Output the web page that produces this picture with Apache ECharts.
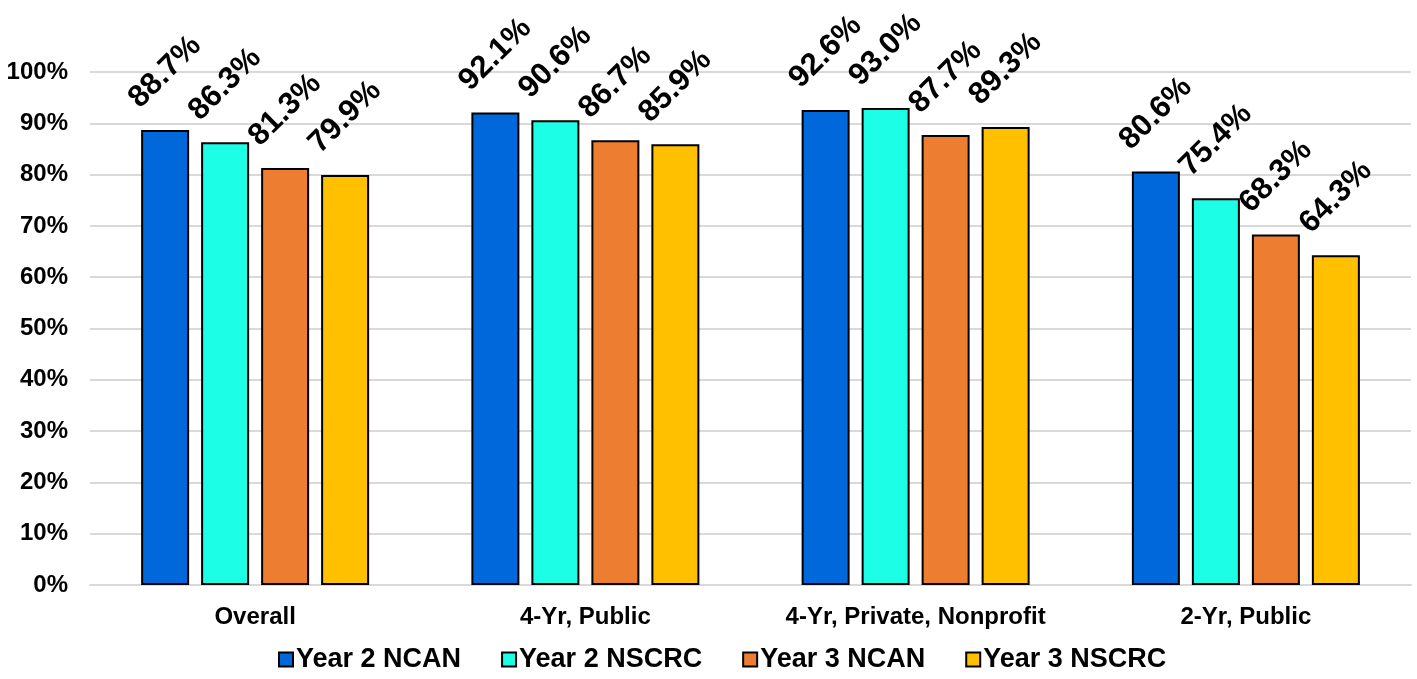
<!DOCTYPE html>
<html>
<head>
<meta charset="utf-8">
<script src="https://cdn.jsdelivr.net/npm/echarts@6/dist/echarts.min.js"></script>
<style>
  html, body { margin: 0; padding: 0; background: #ffffff; }
  #chart { width: 1417px; height: 679px; }
</style>
</head>
<body>
<div id="chart"></div>
<script>
// Institution types along the x axis
const categories = ['Overall', '4-Yr, Public', '4-Yr, Private, Nonprofit', '2-Yr, Public'];

// Persistence rates (%) per cohort and data source
const year2Ncan  = [88.7, 92.1, 92.6, 80.6];
const year2Nscrc = [86.3, 90.6, 93.0, 75.4];
const year3Ncan  = [81.3, 86.7, 87.7, 68.3];
const year3Nscrc = [79.9, 85.9, 89.3, 64.3];

const seriesNames = ['Year 2 NCAN', 'Year 2 NSCRC', 'Year 3 NCAN', 'Year 3 NSCRC'];
const seriesColors = ['#0068DA', '#1CFFE6', '#ED7D31', '#FFC000'];
const seriesData = [year2Ncan, year2Nscrc, year3Ncan, year3Nscrc];

const FONT = '"Liberation Sans", Arial, sans-serif';

const chart = echarts.init(document.getElementById('chart'), null, { renderer: 'canvas' });

chart.setOption({
  animation: false,
  backgroundColor: '#ffffff',
  grid: { left: 90, right: 6, top: 72, bottom: 94, containLabel: false },
  legend: {
    bottom: 1,
    left: 278,
    padding: [5, 0, 5, 0],
    icon: 'rect',
    itemWidth: 14,
    itemHeight: 14,
    itemGap: 40,
    textStyle: { fontFamily: FONT, fontWeight: 'bold', fontSize: 27, color: '#000000', padding: [0, 0, 0, -2] },
    data: seriesNames
  },
  xAxis: {
    type: 'category',
    data: categories,
    axisTick: { show: false },
    axisLine: { show: true, lineStyle: { color: '#d9d9d9', width: 2 } },
    axisLabel: { interval: 0, fontFamily: FONT, fontWeight: 'bold', fontSize: 24, color: '#000000', margin: 20 }
  },
  yAxis: {
    type: 'value',
    min: 0,
    max: 100,
    interval: 10,
    axisLine: { show: false },
    axisTick: { show: false },
    splitLine: { lineStyle: { color: '#d9d9d9', width: 2 } },
    axisLabel: {
      fontFamily: FONT, fontWeight: 'bold', fontSize: 24, color: '#000000', margin: 22,
      formatter: v => v + '%'
    }
  },
  series: seriesNames.map((name, i) => ({
    name: name,
    type: 'bar',
    data: seriesData[i],
    barWidth: 48,
    barGap: '25%',
    itemStyle: { color: seriesColors[i], borderColor: '#000000', borderWidth: 2 },
    label: {
      show: true,
      position: 'top',
      distance: 58,
      rotate: 45,
      align: 'center',
      verticalAlign: 'middle',
      fontFamily: FONT,
      fontWeight: 'bold',
      fontSize: 31,
      color: '#000000',
      formatter: p => p.value.toFixed(1) + '%'
    }
  }))
});
</script>
</body>
</html>
